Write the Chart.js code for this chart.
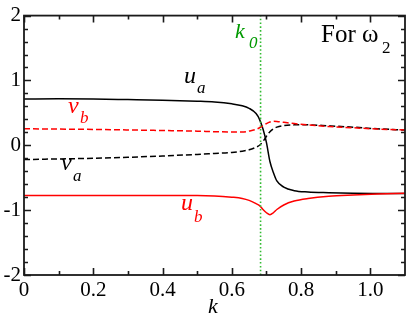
<!DOCTYPE html>
<html><head><meta charset="utf-8">
<script src="https://cdn.jsdelivr.net/npm/chart.js@4.4.0/dist/chart.umd.min.js"></script>
<style>html,body{margin:0;padding:0;background:#fff}canvas{display:block}</style>
</head><body>
<canvas id="c" width="407" height="320"></canvas>
<script>
const kVals = [0, 0.1, 0.2, 0.3, 0.4, 0.5, 0.55, 0.6, 0.63, 0.65, 0.67, 0.68, 0.69, 0.70, 0.71, 0.72, 0.73, 0.75, 0.78, 0.82, 0.88, 0.95, 1.02, 1.1];
const uA = [0.715, 0.716, 0.714, 0.705, 0.695, 0.68, 0.668, 0.64, 0.61, 0.57, 0.49, 0.40, 0.25, 0.04, -0.25, -0.42, -0.55, -0.645, -0.70, -0.72, -0.73, -0.738, -0.742, -0.745];
const uB = [-0.775, -0.775, -0.775, -0.775, -0.775, -0.775, -0.78, -0.80, -0.82, -0.85, -0.90, -0.93, -0.99, -1.04, -1.07, -1.04, -0.99, -0.92, -0.86, -0.82, -0.785, -0.765, -0.75, -0.74];
const vB = [0.255, 0.25, 0.245, 0.237, 0.228, 0.218, 0.21, 0.205, 0.205, 0.22, 0.245, 0.27, 0.30, 0.335, 0.36, 0.37, 0.368, 0.355, 0.335, 0.315, 0.29, 0.27, 0.25, 0.235];
const vA = [-0.22, -0.21, -0.2, -0.185, -0.165, -0.14, -0.125, -0.11, -0.09, -0.07, -0.03, 0.0, 0.06, 0.14, 0.21, 0.255, 0.28, 0.305, 0.315, 0.315, 0.30, 0.28, 0.255, 0.235];
const k0 = 0.683;
const xTickVals = [0, 0.2, 0.4, 0.6, 0.8, 1.0];
const yTickVals = [-2, -1, 0, 1, 2];

const pts = arr => kVals.map((k, i) => ({x: k, y: arr[i]}));
const FONT = 'Liberation Serif';
Chart.defaults.font.family = FONT;

const frame = {
  id: 'frame',
  afterDraw(chart) {
    const {ctx, chartArea: a, scales: {x, y}} = chart;
    ctx.save();
    ctx.strokeStyle = '#1a1a1a';
    ctx.lineWidth = 1.6;
    ctx.setLineDash([]);
    ctx.beginPath();
    for (let i = 0; i <= 11; i++) {
      const v = i / 10;
      const L = i % 2 === 0 ? 7 : 4;
      const px = Math.round(x.getPixelForValue(v)) + 0.5;
      if (px > a.right - 1) continue;
      ctx.moveTo(px, a.bottom); ctx.lineTo(px, a.bottom - L);
      ctx.moveTo(px, a.top); ctx.lineTo(px, a.top + L);
    }
    for (let i = -10; i <= 10; i++) {
      const v = i * 0.2;
      const L = i % 5 === 0 ? 7 : 4;
      const py = Math.round(y.getPixelForValue(v)) + 0.5;
      ctx.moveTo(a.left, py); ctx.lineTo(a.left + L, py);
      ctx.moveTo(a.right, py); ctx.lineTo(a.right - L, py);
    }
    ctx.stroke();
    ctx.lineWidth = 1.8;
    ctx.strokeRect(a.left, a.top, a.right - a.left, a.bottom - a.top);

    const txt = (s, px, py, size, color, italic) => {
      ctx.font = (italic ? 'italic ' : '') + size + 'px "' + FONT + '"';
      ctx.fillStyle = color;
      ctx.textAlign = 'left';
      ctx.textBaseline = 'alphabetic';
      ctx.fillText(s, px, py);
    };
    txt('u', 184, 83, 24, '#000', true); txt('a', 197, 93, 17, '#000', true);
    txt('v', 68, 113, 24, '#ff0000', true); txt('b', 80, 123, 17, '#ff0000', true);
    txt('v', 61, 170, 24, '#000', true); txt('a', 73, 181, 17, '#000', true);
    txt('u', 181, 210, 24, '#ff0000', true); txt('b', 194, 222, 17, '#ff0000', true);
    txt('k', 235, 38, 22, '#009900', true); txt('0', 249, 48, 17, '#009900', true);
    txt('For \u03c9', 321, 42, 25, '#000', false); txt('2', 382, 53, 17, '#000', false);
    txt('k', 208, 313, 22, '#000', true);
    ctx.restore();
  }
};

const chart = new Chart(document.getElementById('c'), {
  type: 'line',
  data: {
    datasets: [
      {data: [{x: k0, y: -2}, {x: k0, y: 2}], borderColor: '#33bb33', borderWidth: 1.6, borderDash: [1.6, 2.2], tension: 0},
      {data: pts(vB), borderColor: '#ff0000', borderWidth: 1.5, borderDash: [6, 3]},
      {data: pts(vA), borderColor: '#000000', borderWidth: 1.5, borderDash: [6, 3]},
      {data: pts(uB), borderColor: '#ff0000', borderWidth: 1.5},
      {data: pts(uA), borderColor: '#000000', borderWidth: 1.5}
    ]
  },
  options: {
    responsive: false,
    animation: false,
    devicePixelRatio: 1,
    layout: {padding: {top: 9, right: 2, left: 0, bottom: 0}},
    elements: {point: {radius: 0}, line: {cubicInterpolationMode: 'monotone', fill: false}},
    plugins: {legend: {display: false}, tooltip: {enabled: false}},
    scales: {
      x: {
        type: 'linear', min: 0, max: 1.1,
        grid: {display: false, drawTicks: false},
        border: {display: false},
        afterBuildTicks: s => { s.ticks = xTickVals.map(v => ({value: v})); },
        afterFit: s => { s.height = 45; },
        ticks: {
          padding: 3, color: '#000', maxRotation: 0, autoSkip: false,
          font: {family: FONT, size: 21},
          callback: v => v === 0 ? '0' : v.toFixed(1)
        }
      },
      y: {
        type: 'linear', min: -2, max: 2,
        grid: {display: false, drawTicks: false},
        border: {display: false},
        afterBuildTicks: s => { s.ticks = yTickVals.map(v => ({value: v})); },
        afterFit: s => { s.width = 24; },
        ticks: {
          padding: 3, color: '#000', autoSkip: false,
          font: {family: FONT, size: 21},
          callback: v => String(v)
        }
      }
    }
  },
  plugins: [frame]
});
</script>
</body></html>
